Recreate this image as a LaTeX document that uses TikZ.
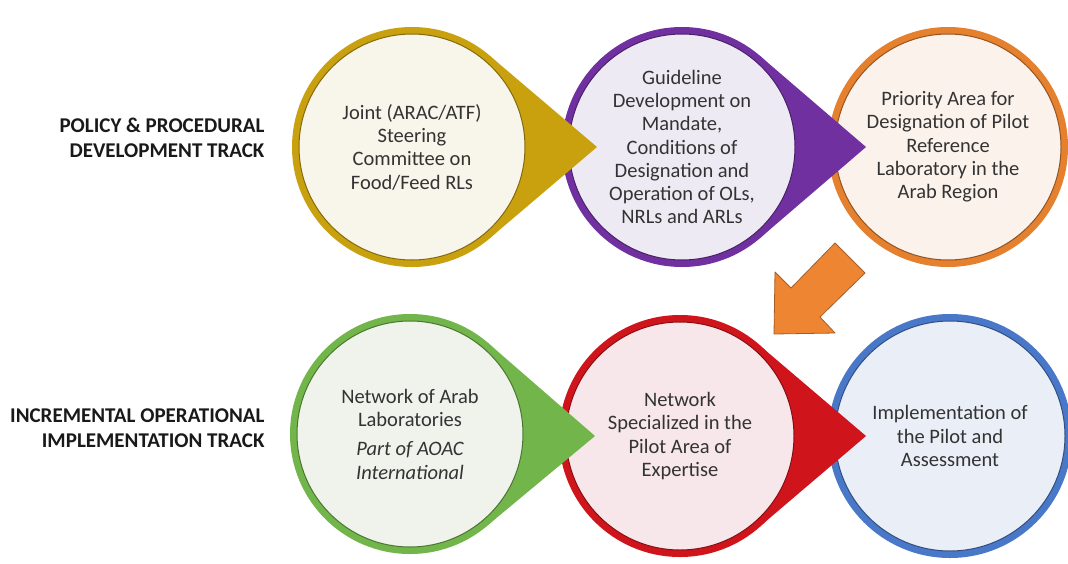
\documentclass[tikz,border=0pt]{standalone}
\usepackage{fontspec}
\setmainfont{Carlito}

\definecolor{txt}{HTML}{333333}
\definecolor{goldring}{HTML}{C9A10F}
\definecolor{goldfill}{HTML}{F8F5EA}
\definecolor{purplering}{HTML}{7030A0}
\definecolor{purplefill}{HTML}{EEEAF3}
\definecolor{orangering}{HTML}{E4802E}
\definecolor{orangefill}{HTML}{FBF2EC}
\definecolor{greenring}{HTML}{72B54A}
\definecolor{greenfill}{HTML}{EFF3EC}
\definecolor{redring}{HTML}{D0141C}
\definecolor{redfill}{HTML}{F7E7EA}
\definecolor{bluering}{HTML}{4A78C8}
\definecolor{bluefill}{HTML}{E9EEF7}
\definecolor{arroworange}{HTML}{EE8532}

\begin{document}
\begin{tikzpicture}[x=1pt, y=-1pt,
  inner/.style={circle, inner sep=0pt, minimum size=226pt, line width=1pt, align=center, text=txt, font=\fontsize{20.5}{23.3}\selectfont},
  track/.style={anchor=east, align=right, text=black!90, font=\fontsize{21}{25}\selectfont\bfseries}]

\useasboundingbox (0,0) rectangle (1068,563);

% track labels
\node[track] (policy) at (268,138) {POLICY \& PROCEDURAL\\DEVELOPMENT TRACK};
\node[track] (increm) at (268,428) {INCREMENTAL OPERATIONAL\\IMPLEMENTATION TRACK};

% upper track, right to left so each tip lies over the next circle
% priority area
\fill[orangering] (948,147) circle (120);
\node[inner, fill=orangefill, draw=orangering!65!black] (priority) at (948,147) {Priority Area for\\Designation of Pilot\\Reference\\Laboratory in the\\Arab Region};

% guideline development
\fill[purplering] (682,147) circle (120);
\fill[purplering] (760,56) -- (866,147) -- (760,238) -- cycle;
\node[inner, fill=purplefill, draw=purplering!65!black] (guide) at (682,147) {Guideline\\Development on\\Mandate,\\Conditions of\\Designation and\\Operation of OLs,\\NRLs and ARLs};

% steering committee
\fill[goldring] (412,147) circle (120);
\fill[goldring] (490,56) -- (597,147) -- (490,238) -- cycle;
\node[inner, fill=goldfill, draw=goldring!65!black] (joint) at (412,147) {Joint (ARAC/ATF)\\Steering\\Committee on\\Food/Feed RLs};

% lower track
% implementation
\fill[bluering] (950,436) circle (122);
\node[inner, fill=bluefill, draw=bluering!65!black, minimum size=230pt] (implem) at (950,436) {Implementation of\\the Pilot and\\Assessment};

% specialized network
\fill[redring] (680,436) circle (121);
\fill[redring] (758,344) -- (866,436) -- (758,528) -- cycle;
\node[inner, fill=redfill, draw=redring!65!black, minimum size=228pt] (special) at (680,436) {Network\\Specialized in the\\Pilot Area of\\Expertise};

% arab network
\fill[greenring] (410,434) circle (120);
\fill[greenring] (488,343) -- (595,436) -- (488,525) -- cycle;
\node[inner, fill=greenfill, draw=greenring!65!black] (arabnet) at (410,434) {Network of Arab\\Laboratories\\[6pt]\itshape Part of AOAC\\\itshape International};

% down-left block arrow between the tracks
\filldraw[fill=arroworange, draw=arroworange!70!black, line width=0.8pt, line join=round]
  (835,243) -- (791,288) -- (775,272) -- (774,334) -- (835,333) -- (820,317) -- (865,273) -- cycle;

\end{tikzpicture}
\end{document}
